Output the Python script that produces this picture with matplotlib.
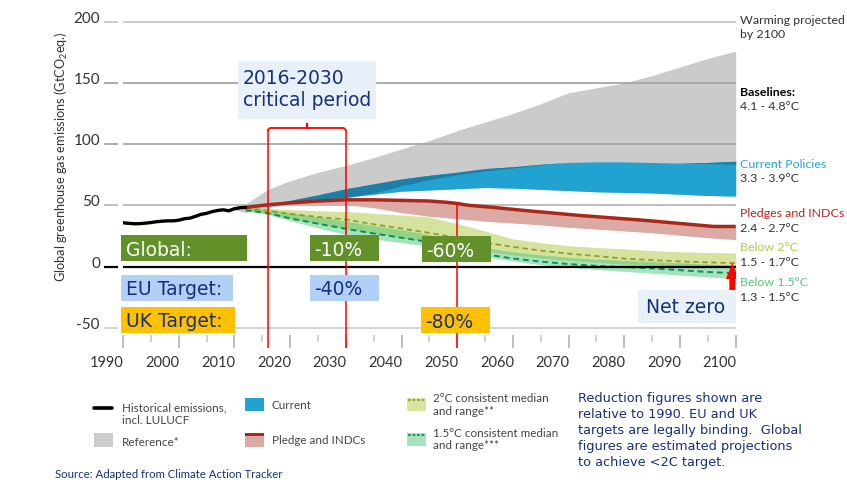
import matplotlib
matplotlib.use("Agg")
import matplotlib.pyplot as plt
from matplotlib.patches import Rectangle, FancyArrow

plt.rcParams['mathtext.default'] = 'regular'

# ---------------- data (GtCO2eq) ----------------
hist_years = list(range(1990, 2013))
hist_values = [35.7, 35.3, 34.9, 35.0, 35.4, 35.9, 36.6, 37.0, 37.3, 37.3, 37.8, 39.0,
               39.5, 41.0, 42.6, 43.4, 44.8, 45.8, 46.3, 45.5, 47.2, 48.0, 48.3]

proj_years = [2012, 2016, 2020, 2025, 2030, 2035, 2040, 2045, 2050, 2055, 2060, 2065,
              2070, 2075, 2080, 2085, 2090, 2095, 2100]

ref_years = [2009] + proj_years
ref_upper = [47.5, 51, 63, 70, 77, 82.5, 89, 96, 103, 111, 118, 125, 133, 142, 146, 150,
             156, 163, 170, 176]
ref_lower = [47.5, 44, 48, 51, 54, 56.5, 59, 61.5, 62.5, 63.5, 64.5, 64, 63, 62, 61, 60.5,
             60, 59, 58, 57.5]

cur_upper = [48.3, 51, 54, 58.5, 63.5, 67.5, 71.5, 74.5, 77, 80, 81.5, 83.5, 85, 85.5,
             85.5, 85, 84.5, 85, 86]
cur_lower = [48.3, 49.5, 51.5, 54, 56.5, 59, 61.5, 62.5, 63.5, 64.5, 64, 63, 62, 61,
             60.5, 60, 59, 58, 57.5]
cur_dark_lower = [48.3, 49.5, 51.5, 54, 56.5, 60, 66, 71, 75, 78, 80.5, 83, 85, 85.5,
                  85.5, 85, 84.5, 84, 83.5]

pledge_years = [2012, 2016, 2020, 2025, 2030, 2035, 2040, 2045, 2048, 2050, 2052, 2056,
                2062, 2072, 2084, 2096, 2100]
pledge_values = [48.3, 50.4, 52, 53.5, 54.5, 54.5, 54, 53.5, 52.5, 51.5, 50, 48.5, 45.8,
                 41.7, 37.6, 32.7, 32.7]
pledge_range_upper = [48.3, 50.4, 52, 53.5, 54.5, 54.5, 54, 53.5, 51.5, 48.9, 46.6, 44.6,
                      42.5, 40.7, 39, 37.2, 35.1, 33, 32.7]
pledge_range_lower = [48.3, 49.5, 50.5, 51, 50.5, 48, 44, 41, 39, 37, 35.5, 34, 32, 30.5,
                      29, 27.5, 25.5, 23.5, 22]

c2_upper = [48.5, 47.5, 46.5, 45.5, 45, 43.5, 42, 40.5, 35, 29, 22.6, 19.5, 17, 15.5,
            14.4, 13, 12, 11.5, 11]
c2_median = [47.8, 45.5, 43, 40.5, 38.4, 34.5, 31, 27.5, 23.5, 19.5, 16, 13, 10.5, 8.5,
             6.5, 5.2, 4.2, 3.4, 2.7]
c2_lower = [46.5, 43, 39.5, 35, 31, 27, 23.5, 20, 16, 12.5, 9.5, 7, 5, 3.5, 2, 1, 0,
            -0.5, -1]

c15_upper = [48, 46.5, 44, 40.5, 37, 33.5, 30, 26, 21, 15.5, 12, 9.5, 7.5, 6, 5, 4, 3,
             2, 1]
c15_median = [46, 43.6, 39.3, 35, 30.8, 27, 23.5, 20, 15, 10, 6.5, 4, 2, 0.5, -0.5,
              -1.5, -3, -4.5, -5.5]
c15_lower = [45.5, 42.5, 37.5, 31.5, 26, 22.5, 19.5, 16.5, 12.5, 8, 4.5, 1.5, -0.5,
             -2.5, -4, -5.5, -7, -8.5, -10]

y_ticks = [200, 150, 100, 50, 0, -50]
x_major = list(range(1990, 2101, 10))
x_minor = list(range(1995, 2100, 10))
period_years = [2016, 2030]
target_2050 = 2050

# ---------------- colours ----------------
NAVY = '#17307a'
GREEN_BOX = '#62912a'
EU_BOX = '#b0d0f8'
UK_BOX = '#ffc000'
PALE_BOX = '#e8f0f9'
GRAY = '#cbcbcb'
BLUE = '#22a2d0'
DARK_BLUE = '#1b7fa6'
PINK = '#dcaaa4'
RED_LINE = '#a8281a'
TXT = '#333333'

# ---------------- figure / axes ----------------
W, H = 847, 490
fig = plt.figure(figsize=(W / 100, H / 100), dpi=100)
AX_L, AX_R = 123.0, 735.7
Y0PX, PXU = 266.5, 1.224
YLIM = (-70, 205)
ax_top = Y0PX - YLIM[1] * PXU
ax_bot = Y0PX - YLIM[0] * PXU
ax = fig.add_axes([AX_L / W, 1 - ax_bot / H, (AX_R - AX_L) / W, (ax_bot - ax_top) / H])
ax.set_xlim(1990, 2100)
ax.set_ylim(*YLIM)
ax.axis('off')
PXY = (AX_R - AX_L) / 110.0


def dx(px):
    return px / PXY


def dy(px):
    return px / PXU


def py(ypx):
    return (Y0PX - ypx) / PXU


# reference
ax.fill_between(ref_years, ref_lower, ref_upper, color=GRAY, lw=0, zorder=1)

# gridlines
grid_colors = {200: '#c8c8c8', 150: '#a6a6a6', 100: '#a6a6a6', 50: '#b8b8b8', -50: '#d0d0d0'}
for v in y_ticks:
    if v == 0:
        ax.hlines(v, 1990, 2100, color='black', lw=1.6, zorder=5)
        ax.hlines(v, 1990 - dx(19), 1990 - dx(5), color='black', lw=1.6, clip_on=False)
    else:
        ax.hlines(v, 1990, 2100, color=grid_colors[v], lw=1.3, zorder=1.5)
        ax.hlines(v, 1990 - dx(19), 1990 - dx(5), color=grid_colors[v], lw=1.3, clip_on=False)
    ax.text(1990 - dx(23), v - dy(1), str(v), ha='right', va='baseline', fontsize=11,
            family='Lato', color=TXT, clip_on=False)

# current policy
ax.fill_between(proj_years, cur_lower, cur_upper, color=BLUE, lw=0, zorder=2)
ax.fill_between(proj_years, cur_dark_lower, cur_upper, color=DARK_BLUE, lw=0, zorder=2.1)

# pledges
ax.fill_between(proj_years, pledge_range_lower, pledge_range_upper, color=PINK, lw=0, zorder=2.2)

# 2C and 1.5C ranges
ax.fill_between(proj_years, c2_lower, c2_upper, color='#b5cc50', alpha=0.55, lw=0, zorder=2.3)
ax.fill_between(proj_years, c15_lower, c15_upper, color='#3cc070', alpha=0.45, lw=0, zorder=2.4)
ax.plot(proj_years, c2_median, color='#8ea12a', lw=1.3, dashes=(3, 2), zorder=2.6)
ax.plot(proj_years, c15_median, color='#0f9050', lw=1.4, dashes=(3, 2), zorder=2.6)

ax.plot(pledge_years, pledge_values, color=RED_LINE, lw=2.5, zorder=3.5, solid_capstyle='butt')
ax.plot(hist_years, hist_values, color='black', lw=2.4, zorder=4, solid_capstyle='round')

# x ticks
for t in x_major:
    ax.vlines(t, py(335), py(348.3), color='#b8b8b8', lw=1.3, clip_on=False)
    ax.text(t - dx(16), py(366.7), str(t), ha='center', va='baseline', fontsize=10.5,
            family='Lato', color=TXT, clip_on=False)
for t in x_minor:
    ax.vlines(t, py(335), py(342.3), color='#c8c8c8', lw=1.2, clip_on=False)

# red period lines and bracket
top = py(130)
for t in period_years:
    ax.vlines(t, py(348.3), top, color='red', lw=1.1, zorder=6)
brk_y = py(128)
ax.plot([period_years[0], period_years[0] + dx(2), period_years[1] - dx(2), period_years[1]],
        [top, brk_y, brk_y, top], color='red', lw=1.3, zorder=6)
mid = (period_years[0] + period_years[1]) / 2
ax.plot([mid, mid], [brk_y, py(124)], color='red', lw=1.6, zorder=6)
ax.vlines(target_2050, py(348.3), pledge_values[pledge_years.index(target_2050)],
          color='red', lw=1.1, zorder=6)

# arrow
ax.add_patch(FancyArrow(2099.4, py(290), 0, py(263) - py(290), width=dx(6), head_width=dx(13),
                        head_length=dy(16), length_includes_head=True, color='red', lw=0,
                        zorder=7))

# ---------------- overlay in pixel coords ----------------
ov = fig.add_axes([0, 0, 1, 1])
ov.set_xlim(0, W)
ov.set_ylim(H, 0)
ov.axis('off')
ov.patch.set_visible(False)
ov.set_zorder(10)


def box(x0, y0, x1, y1, fc):
    ov.add_patch(Rectangle((x0, y0), x1 - x0, y1 - y0, fc=fc, ec='none', lw=0))


BOXFS = 13.5
box_specs = [
    ("Global:", 121, 235, 247, 261, GREEN_BOX, 'white', 126, 256),
    ("-10%", 310, 235, 379, 261, GREEN_BOX, 'white', 314, 256),
    ("-60%", 421.5, 236, 491, 262, GREEN_BOX, 'white', 426.5, 256.7),
    ("EU Target:", 121, 275, 233, 301, EU_BOX, NAVY, 126, 295),
    ("-40%", 310, 275, 379, 301, EU_BOX, NAVY, 314, 295),
    ("UK Target:", 121, 307, 235, 333, UK_BOX, NAVY, 126, 327.3),
    ("-80%", 420.5, 307, 490, 333, UK_BOX, NAVY, 425, 328),
    ("Net zero", 638, 290, 736, 323, PALE_BOX, NAVY, 646.5, 312.7),
]
for label, x0, y0, x1, y1, fc, tc, tx, ty in box_specs:
    box(x0, y0, x1, y1, fc)
    ov.text(tx, ty, label, color=tc, fontsize=BOXFS, family='DejaVu Sans', va='baseline',
            ha='left')

box(238, 61, 376, 119, PALE_BOX)
ov.text(243, 84, "2016-2030", color=NAVY, fontsize=BOXFS, family='DejaVu Sans', va='baseline')
ov.text(243, 106, "critical period", color=NAVY, fontsize=BOXFS, family='DejaVu Sans',
        va='baseline')

# right side labels
RFS = 8.9
right_labels = [
    ("Warming projected", 24, TXT, 'normal'),
    ("by 2100", 37.5, TXT, 'normal'),
    ("Baselines:", 95.7, 'black', 'bold'),
    ("4.1 - 4.8°C", 110, TXT, 'normal'),
    ("Current Policies", 167.7, '#29a3d6', 'normal'),
    ("3.3 - 3.9°C", 182.3, TXT, 'normal'),
    ("Pledges and INDCs", 216.7, '#b3261e', 'normal'),
    ("2.4 - 2.7°C", 231.7, TXT, 'normal'),
    ("Below 2°C", 250.7, '#b5c94a', 'normal'),
    ("1.5 - 1.7°C", 266, TXT, 'normal'),
    ("Below 1.5°C", 286, '#55c57f', 'normal'),
    ("1.3 - 1.5°C", 300.7, TXT, 'normal'),
]
for txt, yb, col, wt in right_labels:
    ov.text(740, yb, txt, color=col, fontsize=RFS, family='Lato', fontweight=wt,
            va='baseline', ha='left')

# y axis label
ov.text(61.5, 157, "Global greenhouse gas emissions (GtCO$_2$eq.)", rotation=90,
        ha='center', va='center', fontsize=9.2, family='Lato', color=TXT)

# ---------------- legend ----------------
LFS = 8.4
LTC = '#444444'
ov.plot([94, 112], [408, 408], color='black', lw=2.6, solid_capstyle='round')
ov.text(122, 411.7, "Historical emissions,", fontsize=LFS, family='Lato', color=LTC)
ov.text(122, 424.3, "incl. LULUCF", fontsize=LFS, family='Lato', color=LTC)
box(94, 433, 113, 447, '#cccccc')
ov.text(122, 446, "Reference*", fontsize=LFS, family='Lato', color=LTC)
box(245, 398, 264, 411, BLUE)
ov.text(272, 409, "Current", fontsize=LFS, family='Lato', color=LTC)
box(245, 433, 264, 447, PINK)
box(245, 433, 264, 436, RED_LINE)
ov.text(272, 444.3, "Pledge and INDCs", fontsize=LFS, family='Lato', color=LTC)
box(407, 398, 426, 411, '#d8e4a0')
ov.plot([408, 425], [399.5, 399.5], color='#8ea12a', lw=1.3, dashes=(1.5, 1))
ov.text(433, 402.3, "2°C consistent median", fontsize=LFS, family='Lato', color=LTC)
ov.text(433, 415, "and range**", fontsize=LFS, family='Lato', color=LTC)
box(407, 433, 426, 446, '#a8e2c0')
ov.plot([408, 425], [434.5, 434.5], color='#0f9050', lw=1.3, dashes=(1.5, 1))
ov.text(433, 436.7, "1.5°C consistent median", fontsize=LFS, family='Lato', color=LTC)
ov.text(433, 449.3, "and range***", fontsize=LFS, family='Lato', color=LTC)

ov.text(55, 478.3, "Source: Adapted from Climate Action Tracker", fontsize=8.2,
        family='Lato', color=NAVY)

note_lines = ["Reduction figures shown are",
              "relative to 1990. EU and UK",
              "targets are legally binding.  Global",
              "figures are estimated projections",
              "to achieve <2C target."]
note_baselines = [402.3, 417.7, 434, 450, 466]
for line, yb in zip(note_lines, note_baselines):
    ov.text(578.3, yb, line, fontsize=9.3, family='DejaVu Sans', color=NAVY, va='baseline')

fig.savefig("out.png", dpi=100)
